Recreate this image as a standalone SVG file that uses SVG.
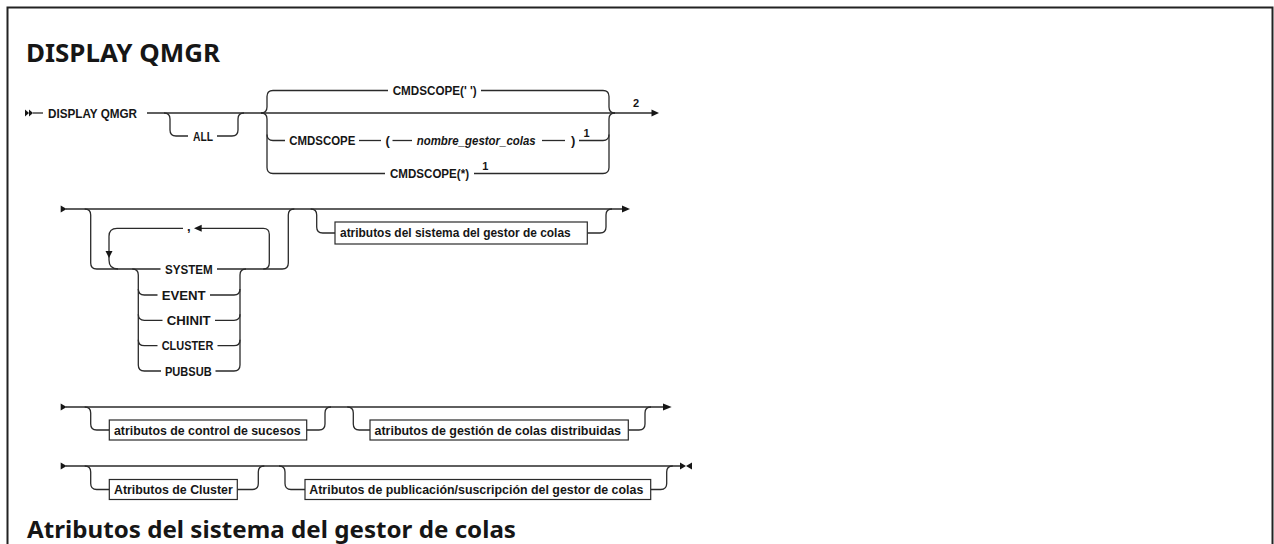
<svg xmlns="http://www.w3.org/2000/svg" width="1274" height="544" viewBox="0 0 1274 544">
<style>
.h{font-family:"Noto Sans","Liberation Sans",sans-serif;font-weight:bold;fill:#161616}
.k{font-family:"Liberation Sans",Arial,sans-serif;font-weight:bold;font-size:13px;fill:#161616}
.v{font-family:"Liberation Sans",Arial,sans-serif;font-weight:bold;font-style:italic;font-size:13px;fill:#161616}
.b{font-family:"Liberation Sans",Arial,sans-serif;font-weight:bold;font-size:13px;fill:#161616}
.s{font-family:"Liberation Sans",Arial,sans-serif;font-weight:bold;font-size:11px;fill:#161616}
.r{fill:none;stroke:#2a2a2a;stroke-width:1.3}
.bx{fill:#fff;stroke:#2a2a2a;stroke-width:1.2}
.ah{fill:#161616}
</style>
<rect x="7.5" y="7.5" width="1265" height="620" fill="none" stroke="#222" stroke-width="2"/>
<text class="h" x="26" y="61.5" font-size="25" textLength="194" lengthAdjust="spacingAndGlyphs">DISPLAY QMGR</text>
<text class="h" x="27" y="538" font-size="23" textLength="489" lengthAdjust="spacingAndGlyphs">Atributos del sistema del gestor de colas</text>

<g id="connectors">
  <!-- row 1 -->
  <polygon class="ah" points="25,109.5 29,113 25,116.5"/>
  <polygon class="ah" points="29,109.5 33,113 29,116.5"/>
  <path class="r" d="M33 113 H43"/>
  <path class="r" d="M147 113 H652"/>
  <polygon class="ah" points="651.5,109.5 659,113 651.5,116.5"/>
  <path class="r" d="M164 113 q6 0 6 6 V130 q0 6 6 6 H188"/>
  <path class="r" d="M217 136 H232 q6 0 6 -6 V119 q0 -6 6 -6"/>
  <path class="r" d="M261 113 q6 0 6 -6 V96.5 q0 -6 6 -6 H388"/>
  <path class="r" d="M261 113 q6 0 6 6 V167.5 q0 6 6 6 H385"/>
  <path class="r" d="M267 134.5 q0 6 6 6 H285"/>
  <path class="r" d="M481 90.5 H603 q6 0 6 6 V107 q0 6 6 6"/>
  <path class="r" d="M474 173.5 H603 q6 0 6 -6 V119 q0 -6 6 -6"/>
  <path class="r" d="M579 140.5 H603 q6 0 6 -6"/>
  <path class="r" d="M359 140.5 H381"/>
  <path class="r" d="M392.5 140.5 H412"/>
  <path class="r" d="M542 140.5 H565"/>
  <!-- row 2 -->
  <polygon class="ah" points="60.7,205.5 66.7,209 60.7,212.5"/>
  <path class="r" d="M66 209 H622"/>
  <polygon class="ah" points="622,205.5 630,209 622,212.5"/>
  <path class="r" d="M84.7 209 q6 0 6 6 V263 q0 6 6 6 H160.5"/>
  <path class="r" d="M217 269 H282.3 q6 0 6 -6 V215 q0 -6 6 -6"/>
  <path class="r" d="M263.3 269 q6 0 6 -6 V234.3 q0 -6 -6 -6 H201"/>
  <polygon class="ah" points="201.7,224.8 201.7,231.8 194,228.3"/>
  <path class="r" d="M183 228.3 H117 q-8 0 -8 8 V260 q0 9 9 9"/>
  <polygon class="ah" points="105.5,251 112.5,251 109,258"/>
  <path class="r" d="M132.3 269 q6 0 6 6 V365 q0 6 6 6 H161"/>
  <path class="r" d="M138.3 289 q0 6 6 6 H157.5"/>
  <path class="r" d="M138.3 314.3 q0 6 6 6 H162.5"/>
  <path class="r" d="M138.3 339.7 q0 6 6 6 H157.5"/>
  <path class="r" d="M246 269 q-6 0 -6 6 V365 q0 6 -6 6 H215.5"/>
  <path class="r" d="M240 289 q0 6 -6 6 H210"/>
  <path class="r" d="M240 314.3 q0 6 -6 6 H215"/>
  <path class="r" d="M240 339.7 q0 6 -6 6 H217.5"/>
  <path class="r" d="M310.7 209 q6 0 6 6 V227 q0 6 6 6 H335"/>
  <path class="r" d="M587.3 233 H600 q6 0 6 -6 V215 q0 -6 6 -6"/>
  <!-- row 3 -->
  <polygon class="ah" points="60.7,403.5 66.7,407 60.7,410.5"/>
  <path class="r" d="M66 407 H664"/>
  <polygon class="ah" points="663,403.5 671.7,407 663,410.5"/>
  <path class="r" d="M84.7 407 q6 0 6 6 V424 q0 6 6 6 H109.3"/>
  <path class="r" d="M306.7 430 H319 q6 0 6 -6 V413 q0 -6 6 -6"/>
  <path class="r" d="M347.3 407 q6 0 6 6 V424 q0 6 6 6 H370"/>
  <path class="r" d="M628.3 430 H639 q6 0 6 -6 V413 q0 -6 6 -6"/>
  <!-- row 4 -->
  <polygon class="ah" points="60.7,462.5 66.7,466 60.7,469.5"/>
  <path class="r" d="M66 466 H681"/>
  <polygon class="ah" points="680,462.5 686,466 680,469.5"/>
  <polygon class="ah" points="692,462.5 686,466 692,469.5"/>
  <path class="r" d="M84.7 466 q6 0 6 6 V483.5 q0 6 6 6 H109.3"/>
  <path class="r" d="M237.3 489.5 H252.3 q6 0 6 -6 V472 q0 -6 6 -6"/>
  <path class="r" d="M279 466 q6 0 6 6 V483.5 q0 6 6 6 H305"/>
  <path class="r" d="M650.7 489.5 H660.7 q6 0 6 -6 V472 q0 -6 6 -6"/>
</g>

<g id="n-display"><text class="k" x="48" y="117.5" textLength="89" lengthAdjust="spacingAndGlyphs">DISPLAY QMGR</text></g>
<g id="n-all"><text class="k" x="193" y="140.5" textLength="20" lengthAdjust="spacingAndGlyphs">ALL</text></g>
<g id="n-cmdscope-blank"><text class="k" x="392.7" y="95.2" textLength="84" lengthAdjust="spacingAndGlyphs">CMDSCOPE(' ')</text></g>
<g id="n-cmdscope-qm">
  <text class="k" x="289.3" y="145" textLength="66" lengthAdjust="spacingAndGlyphs">CMDSCOPE</text>
  <text class="k" x="385.5" y="145">(</text>
  <text class="v" x="416.7" y="145" textLength="119" lengthAdjust="spacingAndGlyphs">nombre_gestor_colas</text>
  <text class="k" x="571" y="145">)</text>
  <text class="s" x="583.5" y="137">1</text>
</g>
<g id="n-cmdscope-star">
  <text class="k" x="390" y="178" textLength="79" lengthAdjust="spacingAndGlyphs">CMDSCOPE(*)</text>
  <text class="s" x="482.2" y="170">1</text>
</g>
<g id="n-note2"><text class="s" x="633" y="106.5">2</text></g>

<g id="n-comma"><text class="k" x="187" y="231">,</text></g>
<g id="n-system"><text class="k" x="165" y="273.7" textLength="47.7" lengthAdjust="spacingAndGlyphs">SYSTEM</text></g>
<g id="n-event"><text class="k" x="161.7" y="299.7" textLength="44" lengthAdjust="spacingAndGlyphs">EVENT</text></g>
<g id="n-chinit"><text class="k" x="166.7" y="325" textLength="44" lengthAdjust="spacingAndGlyphs">CHINIT</text></g>
<g id="n-cluster"><text class="k" x="161.7" y="350.4" textLength="51.6" lengthAdjust="spacingAndGlyphs">CLUSTER</text></g>
<g id="n-pubsub"><text class="k" x="165" y="375.7" textLength="46.7" lengthAdjust="spacingAndGlyphs">PUBSUB</text></g>

<g id="n-sys-attrs">
  <rect class="bx" x="335" y="222" width="252.3" height="22"/>
  <text class="b" x="340" y="237.3" textLength="230.7" lengthAdjust="spacingAndGlyphs">atributos del sistema del gestor de colas</text>
</g>
<g id="n-event-attrs">
  <rect class="bx" x="109.3" y="420" width="197.4" height="20"/>
  <text class="b" x="114" y="434.7" textLength="186.7" lengthAdjust="spacingAndGlyphs">atributos de control de sucesos</text>
</g>
<g id="n-dq-attrs">
  <rect class="bx" x="370" y="420" width="258.3" height="20"/>
  <text class="b" x="374.5" y="434.7" textLength="246.5" lengthAdjust="spacingAndGlyphs">atributos de gestión de colas distribuidas</text>
</g>
<g id="n-cluster-attrs">
  <rect class="bx" x="109.3" y="479.5" width="128" height="20"/>
  <text class="b" x="114" y="494.2" textLength="118.7" lengthAdjust="spacingAndGlyphs">Atributos de Cluster</text>
</g>
<g id="n-pubsub-attrs">
  <rect class="bx" x="305" y="479.5" width="345.7" height="20"/>
  <text class="b" x="309.3" y="494.2" textLength="334" lengthAdjust="spacingAndGlyphs">Atributos de publicación/suscripción del gestor de colas</text>
</g>
</svg>
